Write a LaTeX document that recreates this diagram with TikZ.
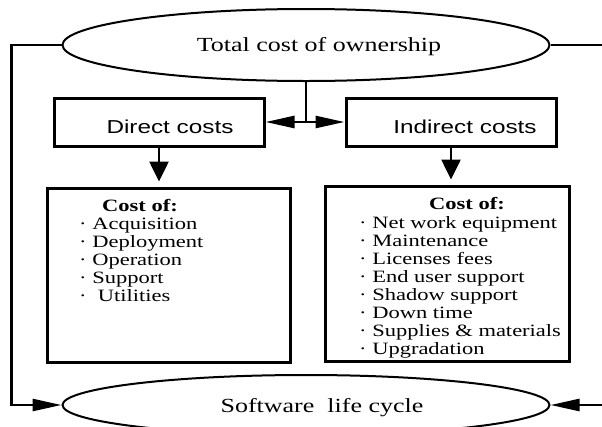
\documentclass[tikz,border=0pt]{standalone}
\usepackage{fontspec}
\setmainfont{Liberation Serif}[FakeStretch=1.3]
\setsansfont{Liberation Sans}[FakeStretch=1.3]
\usetikzlibrary{arrows.meta,shapes.geometric,positioning}

\tikzset{
  oval/.style={ellipse, draw, line width=2pt, minimum width=487pt, inner sep=0pt},
  ovaltext/.style={font=\fontsize{20}{24}\selectfont},
  costbox/.style={draw, line width=3pt, minimum width=210pt, minimum height=48pt},
  costtext/.style={font=\sffamily\fontsize{18.7}{22}\selectfont},
  listbox/.style={draw, line width=3pt},
  listtext/.style={align=left, inner sep=0pt, font=\fontsize{17.3}{18}\selectfont},
  listhead/.style={inner sep=0pt, font=\bfseries\fontsize{17.3}{18}\selectfont},
  flow/.style={line width=2.6pt},
  sidearrow/.style={flow, -{Triangle[length=29pt,width=12pt]}},
  downarrow/.style={flow, -{Triangle[length=20pt,width=19pt]}},
}

\begin{document}
\begin{tikzpicture}[x=1pt,y=-1pt]
\useasboundingbox (0,0) rectangle (602,426);
\clip (0,0) rectangle (602,426);

% ovals
\node[oval, minimum height=72pt,
  label={[ovaltext, xshift=13pt, yshift=-2pt]center:Total cost of ownership}] (tco) at (306,45) {};
\node[oval, minimum height=60pt,
  label={[ovaltext, xshift=16pt, yshift=-3pt]center:Software\ \ life cycle}] (slc) at (306,405) {};

% cost headings
\node[costbox, label={[costtext, xshift=11pt, yshift=-5pt]center:Direct costs}] (direct) at (159,122) {};
\node[costbox, label={[costtext, xshift=14pt, yshift=-5pt]center:Indirect costs}] (indirect) at (451,122) {};

% cost lists
\node[listbox, minimum width=243pt, minimum height=174pt] (dlist) at (168.5,275) {};
\node[listbox, minimum width=244pt, minimum height=175pt] (ilist) at (447,273.5) {};

\node[listhead] (dhead) at (140,206) {Cost of:};
\node[listtext, anchor=north west] (ditems) at (79,218)
  {· Acquisition\\ · Deployment\\ · Operation\\ · Support\\ ·\ \ Utilities};

\node[listhead] (ihead) at (467,204) {Cost of:};
\node[listtext, anchor=north west] (iitems) at (359,216)
  {· Net work equipment\\ · Maintenance\\ · Licenses fees\\ · End user support\\
   · Shadow support\\ · Down time\\ · Supplies \& materials\\ · Upgradation};

% connectors
\coordinate (split) at (tco.south |- direct.east);
\draw[flow] (tco.south) -- (split);
\draw[sidearrow] (split) -- (direct.east);
\draw[sidearrow] (split) -- (indirect.west);

\draw[downarrow, shorten >=5pt] (direct.south) -- (direct.south |- dlist.north);
\draw[downarrow, shorten >=5pt] (indirect.south) -- (indirect.south |- ilist.north);

% life cycle loop
\draw[sidearrow] (tco.west) -- ++(-50,0) |- (slc.west);
\draw[sidearrow] (tco.east) -- ++(54,0) |- (slc.east);
\end{tikzpicture}
\end{document}
